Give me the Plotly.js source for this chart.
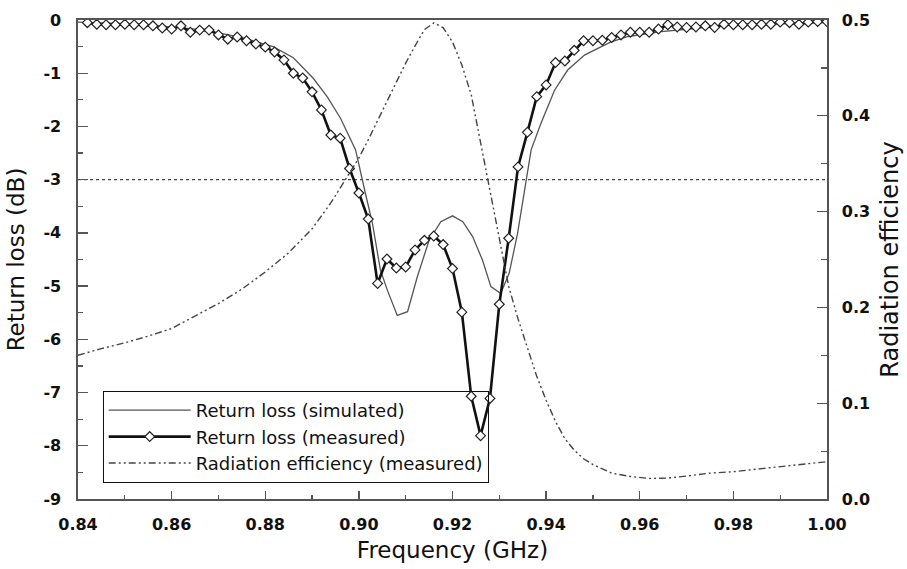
<!DOCTYPE html>
<html>
<head>
<meta charset="utf-8">
<script src="https://cdn.plot.ly/plotly-3.0.1.min.js"></script>
<style>html,body{margin:0;padding:0;background:#fff;}#chart{width:907px;height:569px;}</style>
</head>
<body>
<div id="chart"></div>
<script>
// Measured return loss (dB)
var measFreq = [0.842,0.844,0.846,0.848,0.850,0.852,0.854,0.856,0.858,0.860,
  0.862,0.864,0.866,0.868,0.870,0.872,0.874,0.876,0.878,0.880,
  0.882,0.884,0.886,0.888,0.890,0.892,0.894,0.896,0.898,0.900,
  0.902,0.904,0.906,0.908,0.910,0.912,0.914,0.916,0.918,0.920,
  0.922,0.924,0.926,0.928,0.930,0.932,0.934,0.936,0.938,0.940,
  0.942,0.944,0.946,0.948,0.950,0.952,0.954,0.956,0.958,0.960,
  0.962,0.964,0.966,0.968,0.970,0.972,0.974,0.976,0.978,0.980,
  0.982,0.984,0.986,0.988,0.990,0.992,0.994,0.996,0.998,1.000];
var measRL = [-0.05,-0.08,-0.09,-0.09,-0.08,-0.09,-0.09,-0.11,-0.15,-0.17,
  -0.11,-0.23,-0.19,-0.19,-0.28,-0.36,-0.32,-0.39,-0.45,-0.51,
  -0.60,-0.75,-1.00,-1.09,-1.35,-1.69,-2.16,-2.22,-2.79,-3.25,
  -3.74,-4.95,-4.49,-4.66,-4.64,-4.32,-4.14,-4.06,-4.22,-4.67,
  -5.49,-7.07,-7.81,-7.11,-5.34,-4.10,-2.76,-2.11,-1.44,-1.22,
  -0.80,-0.77,-0.57,-0.39,-0.39,-0.38,-0.33,-0.28,-0.23,-0.23,
  -0.23,-0.17,-0.09,-0.13,-0.14,-0.13,-0.11,-0.14,-0.08,-0.09,
  -0.09,-0.09,-0.08,-0.08,-0.04,-0.05,-0.08,-0.04,-0.03,-0.03];

// Simulated return loss (dB)
var simFreq = [0.840,0.850,0.860,0.865,0.870,0.875,0.8817,0.886,0.8903,0.8933,
  0.8961,0.8993,0.9014,0.9029,0.9046,0.9061,0.9082,0.9104,0.9125,0.9150,
  0.9175,0.9200,0.9222,0.9243,0.9264,0.9282,0.9303,0.9321,0.9339,0.9357,
  0.9368,0.9389,0.9418,0.9446,0.9482,0.9518,0.9539,0.9575,0.9646,0.9717,
  0.9789,0.9861,0.9931,1.000];
var simRL = [-0.04,-0.07,-0.13,-0.17,-0.24,-0.33,-0.50,-0.71,-1.10,-1.45,
  -1.85,-2.44,-3.26,-3.82,-4.70,-5.08,-5.55,-5.48,-4.82,-4.14,
  -3.79,-3.68,-3.79,-4.07,-4.51,-5.01,-5.14,-4.76,-4.01,-3.00,
  -2.44,-1.94,-1.32,-0.94,-0.66,-0.50,-0.41,-0.31,-0.22,-0.16,
  -0.09,-0.08,-0.06,-0.05];

// Measured radiation efficiency
var effFreq = [0.840,0.845,0.850,0.855,0.860,0.865,0.870,0.875,0.880,0.885,
  0.890,0.894,0.897,0.900,0.902,0.904,0.906,0.908,0.910,0.912,
  0.914,0.916,0.918,0.920,0.922,0.924,0.926,0.9275,0.930,0.932,
  0.934,0.936,0.938,0.940,0.942,0.944,0.946,0.948,0.950,0.954,
  0.958,0.962,0.966,0.970,0.975,0.980,0.985,0.990,0.995,1.000];
var effVal = [0.150,0.157,0.163,0.170,0.178,0.191,0.204,0.219,0.237,0.257,
  0.282,0.309,0.333,0.356,0.375,0.395,0.415,0.436,0.455,0.473,
  0.490,0.497,0.492,0.477,0.453,0.422,0.372,0.333,0.268,0.222,
  0.188,0.157,0.128,0.103,0.081,0.063,0.051,0.042,0.036,0.027,
  0.0235,0.0215,0.0218,0.024,0.027,0.0285,0.031,0.034,0.036,0.039];

var xTicks = [0.84,0.86,0.88,0.90,0.92,0.94,0.96,0.98,1.00];
var xTickText = ['0.84','0.86','0.88','0.90','0.92','0.94','0.96','0.98','1.00'];
var yTicks = [0,-1,-2,-3,-4,-5,-6,-7,-8,-9];
var yTickText = ['0','-1','-2','-3','-4','-5','-6','-7','-8','-9'];
var y2Ticks = [0.0,0.1,0.2,0.3,0.4,0.5];
var y2TickText = ['0.0','0.1','0.2','0.3','0.4','0.5'];
var refLevel = -3;

var axisColor = '#555';
var tickFont = {family:'DejaVu Sans', size:16, color:'#111', weight:'bold'};
var titleFont = {family:'DejaVu Sans', size:23, color:'#111'};

var traces = [
  {x: simFreq, y: simRL, name: 'Return loss (simulated)', type:'scatter', mode:'lines',
   line:{color:'#555', width:1.3}, xaxis:'x', yaxis:'y'},
  {x: measFreq, y: measRL, name: 'Return loss (measured)', type:'scatter', mode:'lines+markers',
   line:{color:'#111', width:2.6},
   marker:{symbol:'diamond', size:7.5, color:'#fff', line:{color:'#222', width:1.2}},
   xaxis:'x', yaxis:'y'},
  {x: effFreq, y: effVal, name: 'Radiation efficiency (measured)', type:'scatter', mode:'lines',
   line:{color:'#444', width:1.4, dash:'7px,3px,2px,3px,2px,3px'}, xaxis:'x', yaxis:'y2'}
];

var layout = {
  width: 907, height: 569,
  margin: {l:78, r:80, t:20, b:70},
  paper_bgcolor:'#fff', plot_bgcolor:'#fff',
  showlegend: true,
  legend: {x:0.033, y:0.2255, xanchor:'left', yanchor:'top',
    bgcolor:'rgba(255,255,255,0)', bordercolor:'#111', borderwidth:1,
    font:{family:'DejaVu Sans', size:18, color:'#111'},
    itemwidth: 82, tracegroupgap:0},
  xaxis: {range:[0.84,1.00], tickvals:xTicks, ticktext:xTickText,
    ticks:'inside', ticklen:8, tickwidth:1.3, tickcolor:axisColor,
    minor:{dtick:0.01, tick0:0.84, ticks:'inside', ticklen:4, tickwidth:1.2, tickcolor:axisColor},
    showline:true, linecolor:axisColor, linewidth:1.6, mirror:true,
    showgrid:false, zeroline:false, tickfont:tickFont, ticklabelstandoff:10,
    title:{text:'Frequency (GHz)', font:titleFont, standoff:9}},
  yaxis: {range:[-9,0], tickvals:yTicks, ticktext:yTickText,
    ticks:'inside', ticklen:10, tickwidth:1.3, tickcolor:axisColor,
    minor:{dtick:0.5, tick0:0, ticks:'inside', ticklen:5, tickwidth:1.2, tickcolor:axisColor},
    showline:true, linecolor:axisColor, linewidth:1.6,
    showgrid:false, zeroline:false, tickfont:tickFont, ticklabelstandoff:12,
    title:{text:'Return loss (dB)', font:titleFont, standoff:12}},
  yaxis2: {range:[0,0.5], overlaying:'y', side:'right', tickvals:y2Ticks, ticktext:y2TickText,
    ticks:'inside', ticklen:10, tickwidth:1.3, tickcolor:axisColor,
    minor:{dtick:0.05, tick0:0, ticks:'inside', ticklen:6, tickwidth:1.2, tickcolor:axisColor},
    showline:true, linecolor:axisColor, linewidth:1.6,
    showgrid:false, zeroline:false, tickfont:tickFont, ticklabelstandoff:10,
    title:{text:'Radiation efficiency', font:{family:'DejaVu Sans', size:24, color:'#111'}, standoff:12}},
  shapes: [{type:'line', xref:'paper', x0:0, x1:1, yref:'y', y0:refLevel, y1:refLevel,
    line:{color:'#444', width:1.2, dash:'3px,3px'}, layer:'below'}]
};

Plotly.newPlot('chart', traces, layout, {displayModeBar:false, staticPlot:true});
</script>
</body>
</html>
